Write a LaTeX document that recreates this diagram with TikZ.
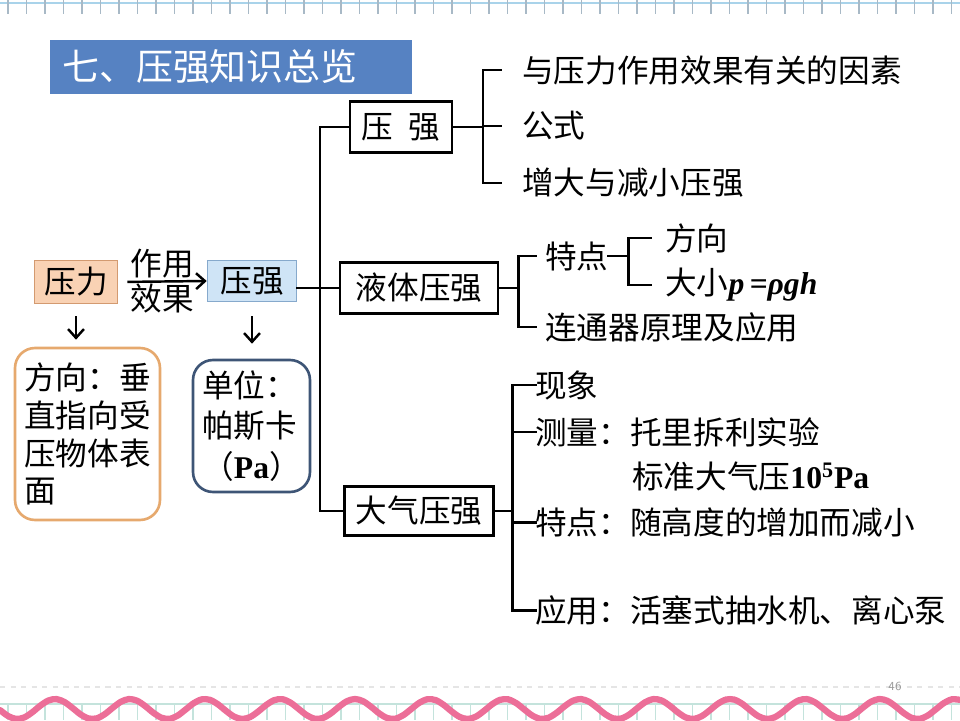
\documentclass[tikz,border=0pt]{standalone}
\usepackage{fontspec}
\setmainfont{Liberation Serif}
\newfontfamily\cjk{Noto Sans CJK SC}
\usetikzlibrary{arrows.meta,positioning,calc}
\definecolor{titleblue}{HTML}{5682C2}
\definecolor{peach}{HTML}{F9D2B4}
\definecolor{peachline}{HTML}{D39A70}
\definecolor{skyfill}{HTML}{CFE4F6}
\definecolor{skyline}{HTML}{86A9CC}
\definecolor{orangeline}{HTML}{E6A96E}
\definecolor{inkblue}{HTML}{3E5576}
\definecolor{rulerblue}{HTML}{A9D3EA}
\definecolor{rulertick}{HTML}{A8B9C6}
\definecolor{wavepink}{HTML}{EC6E98}
\definecolor{gridgreen}{HTML}{C4E3DC}
\newcommand{\fsz}[1]{\fontsize{#1}{#1}\selectfont}
\tikzset{
  hbox/.style={rectangle, draw=black, line width=1.6pt, fill=white, inner sep=0pt},
  tagbox/.style={rectangle, line width=0.9pt, inner sep=0pt},
  roundbox/.style={rectangle, rounded corners=0.4cm, line width=1.5pt, fill=white, inner sep=0pt, align=left},
  leaf/.style={anchor=west, inner sep=0pt},
  br/.style={line width=1.7pt, line cap=rect},
  arr/.style={-{Straight Barb[length=5pt,width=9pt]}, line width=1.4pt},
  titlebox/.style={rectangle, fill=titleblue, text=white, anchor=west, align=left, inner xsep=0.24cm,
                   minimum height=1.1cm, text width=6.76cm, font=\cjk\fsz{21}}
}

\begin{document}
\begin{tikzpicture}[x=0.02cm, y=-0.02cm, every node/.style={font=\cjk\fsz{18}}]
 \useasboundingbox (0,0) rectangle (960,720);
 % top ruler and bottom wave
 \draw[rulerblue, line width=1.2pt] (0,3) -- (960,3);
 \foreach \i in {0,...,51} \draw[rulertick, line width=0.9pt] (8+18.5*\i,0) -- (8+18.5*\i,14);
 \draw[black!10, dashed, line width=0.6pt] (0,687) -- (960,687);
 \draw[gridgreen, line width=0.8pt] (0,704) -- (960,704);
 \foreach \i in {0,...,51} \draw[gridgreen, line width=0.8pt] (8+18.5*\i,704) -- (8+18.5*\i,720);
 \draw[wavepink, line width=3.6pt, line cap=round] plot[smooth, domain=0:960, samples=120] (\x,{709+10*sin(4.8*\x+6)});
 \node[text=black!40, font=\sffamily\fsz{7}] (pg) at (895,686) {46};

 \node[titlebox] (title) at (50,67) {七、压强知识总览};

 % left part
 \node[tagbox, draw=peachline, fill=peach, minimum width=1.66cm, minimum height=0.86cm] (force) at (76,282) {压力};
 \node[tagbox, draw=skyline, fill=skyfill, minimum width=1.78cm, minimum height=0.82cm] (pa) at (252,281) {压强};
 \draw[arr, shorten <=0.18cm] (force.east) -- node[align=center, inner sep=0pt, font=\cjk\fontsize{18}{20}\selectfont] (effect) {作用\\效果} (pa.west);
 \node[roundbox, draw=orangeline, minimum width=2.9cm, minimum height=3.44cm, font=\cjk\fontsize{18}{21.5}\selectfont] (fx) at (87.5,434)
   {方向：垂\\直指向受\\压物体表\\面\hphantom{指向受}};
 \node[roundbox, draw=inkblue, minimum width=2.34cm, minimum height=2.64cm, font=\cjk\fontsize{18}{23}\selectfont] (un) at (251.5,426)
   {单位：\\帕斯卡\\（{\rmfamily\bfseries Pa}）};
 \draw[arr, shorten <=0.24cm, shorten >=0.14cm] (force.south) -- (force.south |- fx.north);
 \draw[arr, shorten <=0.28cm, shorten >=0.3cm] (pa.south) -- (pa.south |- un.north);

 % second level
 \node[hbox, minimum width=2.04cm, minimum height=1.02cm] (b1) at (401,127) {压\hspace{0.5em}强};
 \node[hbox, minimum width=3.16cm, minimum height=1.02cm] (b2) at (419,288) {液体压强};
 \node[hbox, minimum width=2.98cm, minimum height=0.98cm] (b3) at (419,511) {大气压强};
 \coordinate (spine) at (320,0);
 \draw[br] (pa.east |- b2.west) -- (b2.west);
 \draw[br] (b1.west) -- (b1.west -| spine) -- (b3.west -| spine) -- (b3.west);

 % pressure
 \node[leaf] (l11) at (522,70) {与压力作用效果有关的因素};
 \node[leaf] (l12) at (522,126) {公式};
 \node[leaf] (l13) at (522,183) {增大与减小压强};
 \coordinate (k1) at (483,0);
 \draw[br] (b1.east) -- (b1.east -| k1);
 \draw[br] (l11.west -| k1) -- (l13.west -| k1);
 \foreach \n in {l11,l12,l13} \draw[br, shorten >=0.44cm] (\n.west -| k1) -- (\n.west);

 % liquid pressure
 \node[leaf] (l21) at (545,256) {特点};
 \node[leaf] (l22) at (545,327) {连通器原理及应用};
 \node[leaf] (l211) at (665,238) {方向};
 \node[leaf] (l212) at (665,285) {大小{\rmfamily\bfseries\itshape p\,=ρgh}};
 \coordinate (k2) at (518,0);
 \coordinate (k3) at (628,0);
 \draw[br] (b2.east) -- (b2.east -| k2);
 \draw[br] (l21.west -| k2) -- (l22.west -| k2);
 \foreach \n in {l21,l22} \draw[br, shorten >=0.2cm] (\n.west -| k2) -- (\n.west);
 \draw[br] (l21.east) -- (l21.east -| k3);
 \draw[br] (l211.west -| k3) -- (l212.west -| k3);
 \foreach \n in {l211,l212} \draw[br, shorten >=0.3cm] (\n.west -| k3) -- (\n.west);

 % atmospheric pressure
 \node[leaf] (l31) at (535,385) {现象};
 \node[leaf] (l32) at (535,432) {测量：托里拆利实验};
 \node[leaf] (l33) at (632,476) {标准大气压{\rmfamily\bfseries 10\textsuperscript{5}Pa}};
 \node[leaf] (l34) at (535,522) {特点：随高度的增加而减小};
 \node[leaf] (l35) at (535,610) {应用：活塞式抽水机、离心泵};
 \coordinate (k4) at (512,0);
 \draw[br] (b3.east) -- (b3.east -| k4);
 \draw[br] (l31.west -| k4) -- (l35.west -| k4);
 \foreach \n in {l31,l32,l34,l35} \draw[br] (\n.west -| k4) -- (\n.west);
\end{tikzpicture}
\end{document}
